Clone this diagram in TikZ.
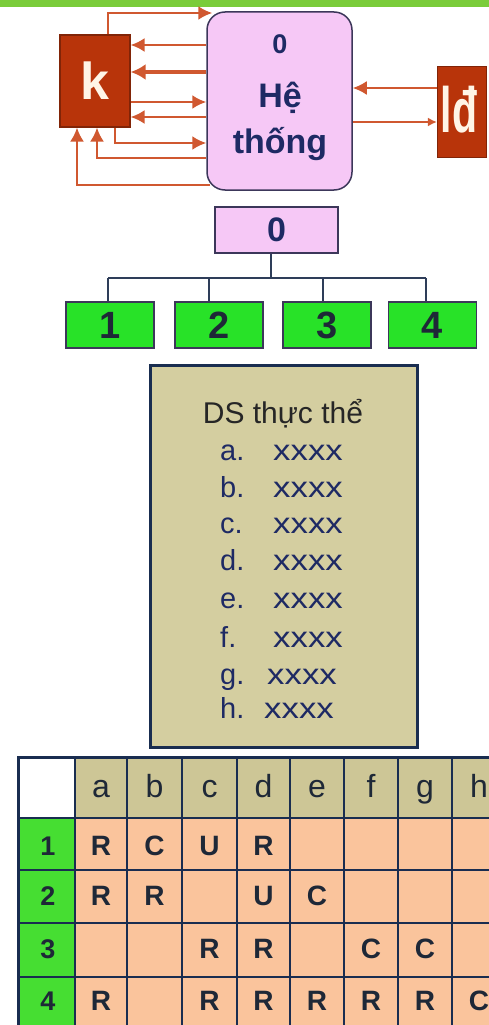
\documentclass[tikz,border=0pt]{standalone}
\usepackage{fontspec}
\usepackage{graphicx}
\setmainfont{Liberation Sans}
\usetikzlibrary{arrows.meta}
\definecolor{barg}{RGB}{122,204,58}
\definecolor{kred}{RGB}{184,52,10}
\definecolor{arrc}{RGB}{208,88,48}
\definecolor{sysp}{RGB}{246,200,246}
\definecolor{navy}{RGB}{30,42,100}
\definecolor{gfill}{RGB}{40,226,40}
\definecolor{khaki}{RGB}{212,206,160}
\definecolor{peach}{RGB}{250,196,156}
\definecolor{rowg}{RGB}{70,222,50}
\definecolor{hdr}{RGB}{205,198,150}
\definecolor{linec}{RGB}{25,45,80}
\definecolor{dtext}{RGB}{30,40,55}
\definecolor{boxline}{RGB}{60,55,90}
\definecolor{cream}{RGB}{255,245,230}
\tikzset{
  redbox/.style={draw=kred!70!black, line width=1.2pt, fill=kred, text=cream, inner sep=0pt},
  sysbox/.style={draw=boxline, line width=1.5pt, fill=sysp, rounded corners=18pt, minimum width=145pt, minimum height=178pt},
  arr/.style={draw=arrc, line width=2.3pt, -{Latex[length=14pt,width=14pt]}},
  smallarr/.style={draw=arrc, line width=2.3pt, -{Latex[length=9pt,width=9pt]}},
  thickarr/.style={draw=arrc, line width=4pt, -{Latex[length=15pt,width=16pt]}},
  pinkbox/.style={draw=boxline, line width=1.5pt, fill=sysp, minimum width=123pt, minimum height=46pt, inner sep=0pt, text=navy, font=\fontsize{34}{34}\selectfont\bfseries},
  greenbox/.style={draw=boxline, line width=1.5pt, fill=gfill, minimum width=88pt, minimum height=46pt, inner sep=0pt, text=dtext, font=\fontsize{38}{38}\selectfont\bfseries},
  tree/.style={draw=linec!80!gray, line width=2pt},
  dsbox/.style={draw=linec, line width=3pt, fill=khaki, minimum width=267pt, minimum height=382pt},
  dstitle/.style={anchor=base, inner sep=0pt, text=black!85, font=\fontsize{30}{30}\selectfont},
  dslab/.style={anchor=base west, inner sep=0pt, text=navy, font=\fontsize{29}{29}\selectfont},
  dsx/.style={anchor=base west, inner sep=0pt, text=navy, font=\fontsize{29}{29}\selectfont},
  hdrtxt/.style={anchor=base, inner sep=0pt, text=dtext, font=\fontsize{32}{32}\selectfont},
  celltxt/.style={anchor=base, inner sep=0pt, text=dtext, font=\fontsize{28}{28}\selectfont\bfseries},
  grid/.style={draw=linec, line width=2pt},
  systxt/.style={anchor=base, inner sep=0pt, text=navy, font=\fontsize{34}{34}\selectfont\bfseries}
}
\begin{document}
\begin{tikzpicture}[x=1pt,y=-1pt]
\useasboundingbox (0,0) rectangle (489,1025);
\clip (0,0) rectangle (489,1025);
% top green bar
\fill[barg] (0,0) rectangle (489,7);

% ---- context diagram ----
\node[redbox, minimum width=70pt, minimum height=92pt, font=\fontsize{52}{52}\selectfont\bfseries] (k) at (95,81) {k};
\node[sysbox] (sys) at (279.5,101) {};
\node[redbox, minimum width=49pt, minimum height=91pt] (ld) at (462,112) {};
\node[anchor=base, inner sep=0pt, text=cream, font=\fontsize{64}{64}\selectfont\bfseries] (ldt) at (459,132) {\scalebox{0.64}[1]{lđ}};
\node[systxt, font=\fontsize{27}{27}\selectfont\bfseries] (s0) at (280,53) {0};
\node[systxt] (s1) at (280,107) {Hệ};
\node[systxt] (s2) at (280,153) {thống};

\draw[arr] (k.north -| 108,0) |- ([xshift=6pt]sys.west |- 0,13);
\draw[arr] (sys.west |- 0,45) -- (k.east |- 0,45);
\draw[thickarr] (sys.west |- 0,72) -- (k.east |- 0,72);
\draw[arr] (k.east |- 0,102) -- (sys.west |- 0,102);
\draw[arr] (sys.west |- 0,117) -- (k.east |- 0,117);
\draw[arr] (k.south -| 115,0) |- (sys.west |- 0,143);
\draw[arr] (sys.west |- 0,158) -| (k.south -| 97,0);
\draw[arr] ([xshift=4pt]sys.west |- 0,185) -| (k.south -| 77,0);
\draw[arr] (ld.west |- 0,88) -- (sys.east |- 0,88);
\draw[smallarr] (sys.east |- 0,122) -- (ld.west |- 0,122);

% ---- decomposition ----
\node[pinkbox] (h0) at (276.5,230) {0};
\node[greenbox] (c1) at (110,325) {1};
\node[greenbox] (c2) at (219,325) {2};
\node[greenbox] (c3) at (327,325) {3};
\node[greenbox] (c4) at (432.5,325) {4};
\coordinate (bus) at (0,278);
\draw[tree] ([xshift=-6pt]h0.south) -- ([xshift=-6pt]h0.south |- bus);
\draw[tree] ([xshift=-2pt]c1.north |- bus) -- ([xshift=-7pt]c4.north |- bus);
\draw[tree] ([xshift=-2pt]c1.north |- bus) -- ([xshift=-2pt]c1.north);
\draw[tree] ([xshift=-10pt]c2.north |- bus) -- ([xshift=-10pt]c2.north);
\draw[tree] ([xshift=-4pt]c3.north |- bus) -- ([xshift=-4pt]c3.north);
\draw[tree] ([xshift=-7pt]c4.north |- bus) -- ([xshift=-7pt]c4.north);

% ---- entity list ----
\node[dsbox] (ds) at (283.5,556) {};
\node[dstitle] (dst) at (283,423) {DS thực thể};
\foreach \l/\y/\xx in {a/460/273,b/497/273,c/533/273,d/570/273,e/608/273,f/647/273,g/684/267,h/718/264}{
  \node[dslab] (dl-\l) at (220,\y) {\l.};
  \node[dsx] (dx-\l) at (\xx,\y) {\scalebox{1.2}[1]{xxxx}};
}

% ---- matrix table ----
\fill[white] (18,757) rectangle (75,818);
\fill[hdr] (75,757) rectangle (510,818);
\fill[rowg] (18,818) rectangle (75,1030);
\fill[peach] (75,818) rectangle (510,1030);
\foreach \x in {75,127,182,237,290,344,398,452,506}{
  \draw[grid] (\x,757) -- (\x,1030);
}
\foreach \y in {818,870,923,977}{
  \draw[grid] (18,\y) -- (510,\y);
}
\draw[grid, line width=3pt] (18,1030) -- (18,757) -- (510,757);
\foreach \c/\x in {a/101,b/154.5,c/209.5,d/263.5,e/317,f/371,g/425,h/479}{
  \node[hdrtxt] (hd-\c) at (\x,797) {\c};
}
\foreach \r/\y in {1/855,2/905,3/958,4/1010}{
  \node[celltxt, font=\fontsize{27}{27}\selectfont\bfseries] (rl-\r) at (48,\y) {\r};
}
\foreach \n/\x/\y/\t in {
  1a/101/855/R, 1b/154.5/855/C, 1c/209.5/855/U, 1d/263.5/855/R,
  2a/101/905/R, 2b/154.5/905/R, 2d/263.5/905/U, 2e/317/905/C,
  3c/209.5/958/R, 3d/263.5/958/R, 3f/371/958/C, 3g/425/958/C,
  4a/101/1010/R, 4c/209.5/1010/R, 4d/263.5/1010/R, 4e/317/1010/R, 4f/371/1010/R, 4g/425/1010/R, 4h/479/1010/C}{
  \node[celltxt] (v-\n) at (\x,\y) {\t};
}
\end{tikzpicture}
\end{document}
